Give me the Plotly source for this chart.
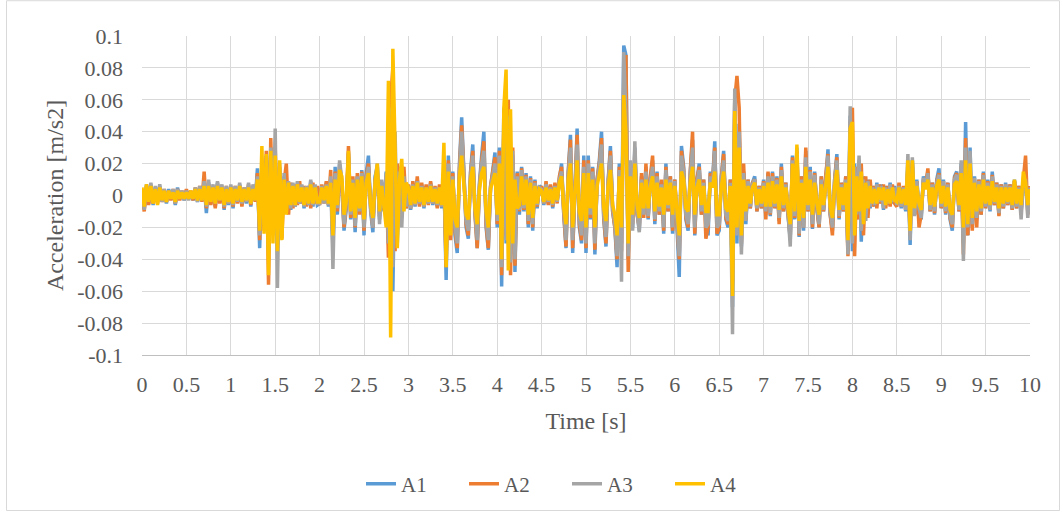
import numpy as np
import plotly.graph_objects as go

# Sampled accelerations, one value every SAMPLE_INTERVAL seconds,
# stored in units of 1e-3 m/s2 (one row per half second).
SAMPLE_INTERVAL = 0.025
MILLI = 1e-3

A1_MILLI = [
    2, -8, 6, -5, 7, -6, 5, -4, 6, -3, 3, -5, 4, -2, 3, -6, 5, -2, 2, -3,
    3, -2, 2, -3, 4, -4, 5, -3, 7, -11, 8, -5, 6, -7, 8, -4, 6, -9, 5, -6,
    6, -8, 5, -4, 7, -6, 4, -5, 6, -7, 5, -3, 17, -33, 16, -20, 25, -30, 30, -25,
    24, -28, 15, -18, 12, -10, 8, -9, 6, -7, 8, -5, 6, -8, 5, -6, 9, -7, 5, -6,
    -5, 6, -4, 8, -7, 10, -33, 18, -12, 20, 8, -22, -8, 27, -15, 10, -23, 12, -10, 16,
    -25, 14, 25, -10, -23, 12, 18, -15, 8, -10, 15, -30, 50, -60, 28, -30, 18, -12, 10, -8,
    6, -9, 8, -7, 10, -6, 7, -8, 6, -5, 8, -6, 5, -7, 6, -8, 12, -53, 25, -20,
    15, -25, -36, 20, 49, 10, -20, -27, 15, 32, -10, -33, 8, 25, 40, -20, -34, 5, 15, 27,
    -20, 30, -57, 55, -30, 40, -40, 25, -48, 15, -12, 18, -10, 14, -20, 12, -22, 10, -8, 6,
    5, -6, 8, -5, 6, -8, 7, -4, 10, 20, -12, -33, 15, 38, -36, 10, 42, -20, -30, 25,
    -36, 25, -15, 18, -37, 10, 22, 40, -15, -32, 10, 31, -10, -20, -45, 20, -30, 94, 88, -40,
    20, -20, 30, -10, -22, 12, -12, 18, -15, 10, 22, -18, 15, -12, 8, -24, 20, -10, 12, -24,
    10, -20, -51, 31, 18, -15, -22, 15, 35, -25, 10, 20, -12, 10, -15, -25, 15, 8, 34, -25,
    -22, 12, 28, -15, -20, 10, -70, 60, -30, 45, -32, 15, -18, 10, -8, 8, 12, -10, 6, -8,
    10, -12, 14, -13, 15, -8, 12, -16, 20, -10, 8, -12, -28, 25, -15, 30, -26, 12, -22, 28,
    -10, 18, -21, 15, -8, -20, 12, -10, 14, 29, -12, -22, 10, 26, -15, 8, -10, 12, -35, 50,
    -35, 20, -15, 22, -29, 12, -12, 10, -8, 6, -7, 8, -5, 7, -9, 6, -6, 8, -5, 6,
    -6, 7, -8, 5, -10, 18, -31, 22, -12, 10, -8, -15, 12, 6, 15, -10, 8, -12, 10, 17,
    -8, 10, -12, 8, -15, -22, 12, 15, -10, 20, -30, 46, -25, 30, -20, 12, -15, 10, -12, 15,
    -8, 10, -10, 15, -6, 8, -12, 7, -8, 8, -6, 7, -9, 10, -8, 6, -10, 8, 12, -10, 5,
]

A2_MILLI = [
    3, -10, 5, -6, 6, -5, 4, -5, 5, -4, 4, -4, 3, -3, 4, -5, 4, -3, 3, -2,
    4, -2, 3, -3, 5, -3, 6, -4, 15, -8, 7, -6, 5, -8, 7, -5, 5, -8, 6, -5,
    5, -7, 6, -5, 6, -7, 5, -4, 7, -6, 6, -4, 14, -28, 18, -22, 28, -56, 36, -20,
    30, -30, 18, -27, 8, 20, -12, 8, -8, 7, -6, 9, -5, 6, -7, 6, -8, 8, -5, 6,
    -6, 7, -5, 9, -6, 16, -28, 15, -10, 18, 6, -20, -6, 31, -14, 12, -20, 14, -12, 15,
    -22, 12, 20, -8, -20, 10, 16, -13, 7, -9, 12, -39, 60, 80, -35, 20, -15, 10, 18, -8,
    7, -8, 9, -6, 12, -7, 8, -7, 7, -6, 9, -5, 6, -8, 7, -7, 10, -45, 22, -28,
    14, -22, -33, 18, 44, 12, -18, -25, 14, 28, -12, -33, 6, 22, 34, -18, -33, 6, 14, 24,
    -18, 28, -50, 45, -25, 60, -50, 30, -44, 14, -10, 17, -9, 13, -18, 11, -20, 9, -7, 5,
    5, -5, 9, -6, 7, -7, 8, -5, 12, 18, -12, -32, 14, 35, -33, 10, 38, -18, -28, 22,
    -33, 22, -14, 17, -34, 10, 20, 36, -14, -30, 9, 28, -10, -20, -40, 18, -35, 70, 88, -48,
    18, -18, 28, -12, -20, 14, -14, 20, -14, 12, 25, -16, 14, -12, 10, -22, 18, -10, 12, -22,
    10, -18, -40, 28, 16, -14, -20, 16, 40, -24, 10, 18, -12, 10, -27, -20, 14, 8, 30, -24,
    -20, 12, 26, -14, -18, 10, -55, 60, 75, 55, -30, 20, -15, 10, -8, 8, 10, -10, 6, -8,
    9, -15, 15, -12, 14, -8, 11, -18, 18, -10, 8, -12, -26, 24, -14, 28, -25, 12, -20, 30,
    -10, 16, -20, 14, -8, -20, 12, -10, 13, 26, -12, -25, 10, 24, -14, 8, -10, 12, -38, 45,
    55, -38, 18, -15, 20, -25, 12, -14, 10, -7, 6, -8, 7, -5, 7, -8, 6, -7, 7, -5,
    -7, 8, -7, 6, -9, 16, -25, 20, -12, 9, -20, -12, 10, 6, 17, -10, 8, -11, 9, 14,
    -8, 9, -11, 8, -14, -20, 11, 14, -10, 18, -37, 36, -25, 20, -22, 10, -20, 10, -12, 14,
    -8, 9, -9, 13, -6, 8, -13, 7, -8, 7, -6, 7, -9, 9, -8, 6, -10, 10, 25, -12, 6,
]

A3_MILLI = [
    4, -9, 7, -4, 8, -5, 6, -3, 7, -4, 4, -4, 3, -2, 4, -5, 4, -2, 3, -3,
    3, -3, 2, -2, 5, -4, 6, -3, 9, -7, 10, -4, 7, -5, 9, -3, 7, -7, 6, -5,
    7, -6, 6, -4, 8, -5, 5, -4, 8, -5, 7, -3, 12, -25, 20, -18, 22, -35, 30, -22,
    42, -58, 20, -22, 14, -9, 9, -8, 8, -7, 9, -5, 7, -7, 6, -6, 10, -6, 7, -5,
    -5, 6, -5, 7, -6, 12, -46, 14, -8, 22, 10, -18, -5, 24, -12, 10, -19, 12, -10, 14,
    -20, 10, 18, -8, -20, 10, 20, -18, 10, -8, 14, -30, 55, -45, 40, -25, 15, -20, 12, -7,
    6, -8, 7, -6, 9, -5, 6, -7, 5, -5, 7, -5, 5, -6, 5, -7, 10, -38, 20, -22,
    12, -20, -30, 15, 40, 10, -16, -22, 12, 25, -10, -28, 5, 20, 28, -15, -28, 5, 12, 20,
    -16, 25, -45, 42, -28, 50, -42, 28, -40, 12, -9, 16, -8, 12, -16, 10, -18, 8, -6, 5,
    4, -5, 7, -4, 5, -6, 6, -4, 10, 15, -10, -28, 12, 30, -28, 8, 32, -15, -25, 18,
    -30, 20, -12, 15, -30, 8, 18, 32, -12, -26, 8, 25, -8, -18, -38, 16, -54, 90, 50, -38,
    22, -22, 34, -10, -23, 10, -12, 15, -13, 9, 18, -15, 12, -10, 7, -20, 16, -8, 10, -20,
    9, -16, -38, 25, 14, -12, -18, 13, 30, -20, 8, 16, -10, 8, -20, -18, 12, 6, 28, -20,
    -18, 10, 22, -12, -16, 8, -87, 67, -25, 40, -37, 14, -16, 9, -7, 7, 10, -8, 5, -7,
    8, -10, 12, -11, 12, -7, 10, -14, 16, -8, 7, -10, -32, 22, -13, 26, -24, 10, -20, 24,
    -9, 15, -18, 13, -7, -18, 10, -9, 12, 25, -10, -20, 9, 22, -13, 7, -9, 10, -37, 56,
    -30, 18, -12, 25, -22, 10, -16, 9, -7, 5, -6, 7, -4, 6, -8, 5, -5, 7, -4, 5,
    -6, 6, -7, 5, -9, 26, -28, 24, -13, 9, -8, -14, 11, 5, 14, -9, 7, -10, 8, 13,
    -7, 9, -10, 7, -13, -18, 10, 13, -9, 22, -41, 30, -20, 28, -18, 11, -14, 9, -10, 13,
    -7, 8, -9, 12, -5, 7, -11, 6, -7, 7, -5, 6, -8, 9, -7, 5, -15, 8, 10, -14, 5,
]

A4_MILLI = [
    5, -7, 7, -4, 6, -5, 4, -6, 5, -3, 3, -4, 3, -2, 2, -4, 3, -2, 2, -2,
    2, -2, 3, -2, 4, -3, 4, -3, 6, -6, 6, -4, 5, -5, 6, -3, 5, -6, 4, -4,
    5, -5, 4, -3, 6, -4, 4, -3, 5, -5, 4, -3, 10, -22, 31, -24, 26, -50, 28, -30,
    25, -35, 22, -28, 10, -12, 8, -6, 6, -6, 7, -4, 5, -6, 5, -5, 7, -5, 5, -4,
    -4, 5, -3, 6, -5, 8, -25, 10, -6, 16, 12, -12, -4, 28, -10, 8, -14, 10, -8, 12,
    -15, 8, 14, -6, -14, 8, 20, -10, 6, -8, -20, 72, -89, 92, 32, -33, 10, 23, -10, 8,
    5, -6, 6, -5, 8, -4, 5, -6, 5, -4, 6, -4, 4, -5, 5, -6, 33, -45, 15, -25,
    10, -15, -20, 12, 25, 8, -12, -15, 10, 18, -8, -18, 4, 14, 18, -10, -20, 4, 10, 14,
    -12, 20, -40, 55, 79, -47, 54, -30, 10, -8, -6, 12, -6, 10, -12, 8, -14, 6, -5, 4,
    3, -4, 5, -3, 4, -5, 5, -3, 8, 12, -8, -18, 10, 20, -20, 6, 22, -10, -16, 14,
    -20, 14, -8, 10, -20, 6, 12, 20, -8, -16, 6, 16, -6, -12, -25, 12, -20, 63, 40, -30,
    12, -12, 20, -6, -14, 8, -8, 10, -8, 6, 12, -10, 8, -7, 5, -12, 10, -6, 8, -12,
    6, -10, -25, 15, 10, -8, -10, 8, 18, -12, 5, 10, -6, 6, -10, -10, 8, 5, 15, -12,
    -12, 6, 15, -8, -10, 6, -63, 53, -20, 30, -25, 10, -10, 6, -5, 5, 8, -6, 4, -5,
    6, -7, 8, -7, 9, -5, 7, -9, 12, -6, 5, -8, -18, 20, -10, 32, -16, 8, -14, 18,
    -6, 10, -12, 8, -5, -12, 7, -6, 8, 18, -7, -14, 6, 16, -9, 5, -6, 8, -28, 42,
    46, -25, 12, -10, 15, -18, 8, -8, 6, -5, 4, -5, 5, -3, 5, -6, 4, -5, 5, -3,
    -4, 5, -5, 4, -6, 22, -22, 22, -8, 6, -5, -9, 8, 4, 10, -6, 5, -7, 6, 10,
    -5, 6, -7, 5, -9, -12, 7, 9, -6, 14, -20, 22, -18, 20, -14, 8, -10, 7, -8, 10,
    -5, 6, -6, 9, -4, 5, -8, 5, -5, 5, -4, 5, -6, 10, -5, 4, -6, 15, 8, -6, 4,
]

SERIES_NAMES = ["A1", "A2", "A3", "A4"]
SERIES_COLORS = ["#5B9BD5", "#ED7D31", "#A5A5A5", "#FFC000"]

X_TICK_VALUES = [0, 0.5, 1, 1.5, 2, 2.5, 3, 3.5, 4, 4.5, 5,
                 5.5, 6, 6.5, 7, 7.5, 8, 8.5, 9, 9.5, 10]
X_TICK_LABELS = ["0", "0.5", "1", "1.5", "2", "2.5", "3", "3.5", "4", "4.5", "5",
                 "5.5", "6", "6.5", "7", "7.5", "8", "8.5", "9", "9.5", "10"]
Y_TICK_VALUES = [0.1, 0.08, 0.06, 0.04, 0.02, 0, -0.02, -0.04, -0.06, -0.08, -0.1]
Y_TICK_LABELS = ["0.1", "0.08", "0.06", "0.04", "0.02", "0",
                 "-0.02", "-0.04", "-0.06", "-0.08", "-0.1"]

series_values = [A1_MILLI, A2_MILLI, A3_MILLI, A4_MILLI]
n_samples = len(A1_MILLI)
time = np.round(np.arange(n_samples) * SAMPLE_INTERVAL, 3)

FONT = "Liberation Serif, Times New Roman, serif"
TEXT = "#595959"
GRID = "#D9D9D9"

W, H = 1063, 516
L, R, T, B = 142, 33, 36, 159
plot_w = W - L - R
plot_h = H - T - B


def px_x(px):
    return (px - L) / plot_w


def px_y(py):
    return (H - B - py) / plot_h


fig = go.Figure()
for name, color, vals in zip(SERIES_NAMES, SERIES_COLORS, series_values):
    fig.add_trace(go.Scatter(
        x=time, y=np.array(vals) * MILLI, name=name, mode="lines",
        line=dict(color=color, width=3.5),
    ))

fig.update_layout(
    width=W, height=H,
    margin=dict(l=L, r=R, t=T, b=B),
    paper_bgcolor="white", plot_bgcolor="white",
    font=dict(family=FONT, color=TEXT, size=22),
    showlegend=True,
    legend=dict(
        orientation="h", x=px_x(361), xanchor="left", y=px_y(487), yanchor="middle",
        font=dict(size=21, color=TEXT), itemwidth=30,
        entrywidth=58, entrywidthmode="pixels",
        traceorder="normal",
    ),
    shapes=[dict(
        type="rect", xref="paper", yref="paper",
        x0=px_x(6.5), x1=px_x(1059.5), y0=px_y(513.5), y1=px_y(0.5),
        line=dict(color="#D9D9D9", width=1), fillcolor="rgba(0,0,0,0)",
        layer="below",
    )],
)

fig.update_xaxes(
    range=[0, 10], tickvals=X_TICK_VALUES, ticktext=X_TICK_LABELS,
    showgrid=True, gridcolor=GRID, gridwidth=1,
    showline=True, linecolor="#BFBFBF", linewidth=1, mirror=False,
    zeroline=False, ticks="", ticklabelstandoff=10,
    tickfont=dict(size=22, color=TEXT),
    title=dict(text="Time [s]", font=dict(size=24, color=TEXT), standoff=15),
)
fig.update_yaxes(
    range=[-0.1, 0.1], tickvals=Y_TICK_VALUES, ticktext=Y_TICK_LABELS,
    showgrid=True, gridcolor=GRID, gridwidth=1,
    showline=False, zeroline=False, ticks="", ticklabelstandoff=18,
    tickfont=dict(size=22, color=TEXT),
    title=dict(text="Acceleration [m/s2]", font=dict(size=24, color=TEXT), standoff=6),
)

fig.write_html("out.html")
